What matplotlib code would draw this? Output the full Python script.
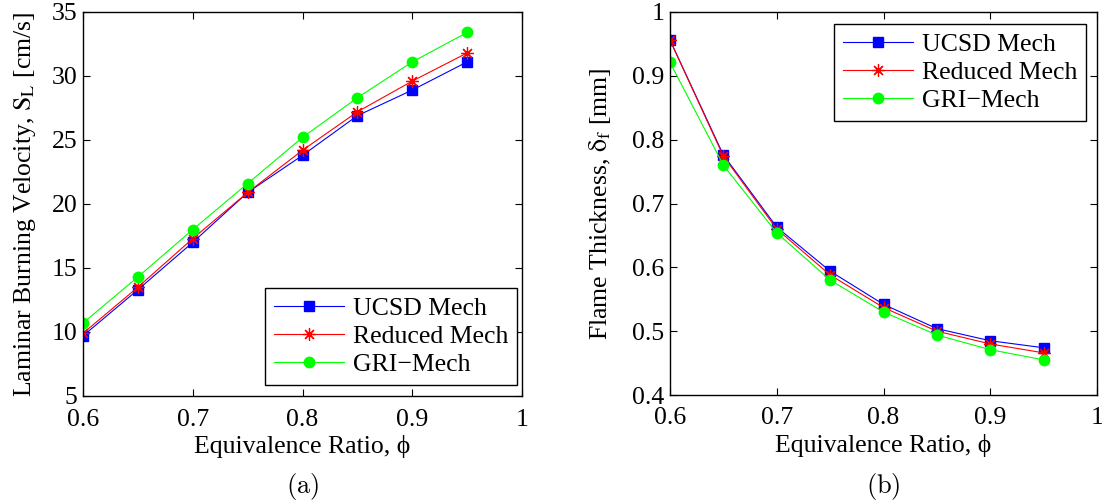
import matplotlib
matplotlib.use('Agg')
import matplotlib.pyplot as plt

plt.rcParams['font.family'] = ['Liberation Serif', 'DejaVu Serif']
plt.rcParams['mathtext.fontset'] = 'stix'
plt.rcParams['font.size'] = 18.5

# equivalence ratio
phi = [0.60, 0.65, 0.70, 0.75, 0.80, 0.85, 0.90, 0.95]

# (a) laminar burning velocity [cm/s]
sl_ucsd = [9.7, 13.3, 17.0, 20.9, 23.8, 26.9, 28.9, 31.1]
sl_reduced = [9.9, 13.5, 17.3, 20.9, 24.2, 27.2, 29.6, 31.8]
sl_gri = [10.7, 14.3, 18.0, 21.6, 25.2, 28.3, 31.1, 33.4]

# (b) flame thickness [mm]
df_ucsd = [0.956, 0.776, 0.663, 0.594, 0.542, 0.504, 0.485, 0.474]
df_reduced = [0.956, 0.774, 0.660, 0.588, 0.537, 0.500, 0.480, 0.466]
df_gri = [0.921, 0.760, 0.654, 0.580, 0.530, 0.494, 0.471, 0.455]

labels = ['UCSD Mech', 'Reduced Mech', 'GRI\u2212Mech']

W, H = 1102, 504
fig = plt.figure(figsize=(W / 100, H / 100), dpi=100)
ax1 = fig.add_axes([83 / W, 1 - 396 / H, (522 - 83) / W, (396 - 12) / H])
ax2 = fig.add_axes([670 / W, 1 - 395 / H, (1097 - 670) / W, (395 - 12) / H])


def draw(ax, ys):
    ax.plot(phi, ys[0], color='blue', lw=0.8, marker='s', ms=6.5, label=labels[0])
    ax.plot(phi, ys[1], color='red', lw=0.8, marker=(8, 2, 0), ms=9, mew=0.9, label=labels[1])
    ax.plot(phi, ys[2], color='#00ff00', lw=0.8, marker='o', ms=7.5, label=labels[2])
    ax.set_xlim(0.6, 1.0)
    ax.set_xticks([0.6, 0.7, 0.8, 0.9, 1.0])
    ax.set_xticklabels(['0.6', '0.7', '0.8', '0.9', '1'])
    ax.tick_params(direction='in', top=True, right=True, length=5, width=0.8)
    ax.tick_params(axis='x', pad=9)
    ax.tick_params(axis='y', pad=4)
    for s in ax.spines.values():
        s.set_linewidth(1.0)
    ax.set_xlabel('Equivalence Ratio, \u03d5', labelpad=3)


def add_legend(ax, loc, anchor):
    leg = ax.legend(loc=loc, bbox_to_anchor=anchor, borderaxespad=0, fancybox=False,
                    edgecolor='black', framealpha=1, handlelength=2.7, handletextpad=0.35,
                    borderpad=0.35, labelspacing=0.2)
    leg.get_frame().set_linewidth(1.0)


draw(ax1, [sl_ucsd, sl_reduced, sl_gri])
ax1.set_ylim(5, 35)
ax1.set_yticks([5, 10, 15, 20, 25, 30, 35])
ax1.set_ylabel(r'Laminar Burning Velocity, $\mathrm{S_L}$ [cm/s]', labelpad=10)
add_legend(ax1, 'lower right', (0.989, 0.029))

draw(ax2, [df_ucsd, df_reduced, df_gri])
ax2.set_ylim(0.4, 1.0)
ax2.set_yticks([0.4, 0.5, 0.6, 0.7, 0.8, 0.9, 1.0])
ax2.set_yticklabels(['0.4', '0.5', '0.6', '0.7', '0.8', '0.9', '1'])
ax2.set_ylabel(r'Flame Thickness, $\mathrm{\delta_f}$ [mm]', labelpad=14)
add_legend(ax2, 'upper right', (0.974, 0.969))

fig.text((83 + 522) / 2 / W, 1 - 487 / H, r'$\mathrm{(a)}$', ha='center', va='center',
         fontsize=19, math_fontfamily='cm')
fig.text((670 + 1097) / 2 / W, 1 - 487 / H, r'$\mathrm{(b)}$', ha='center', va='center',
         fontsize=19, math_fontfamily='cm')

fig.savefig('out.png', dpi=100)
